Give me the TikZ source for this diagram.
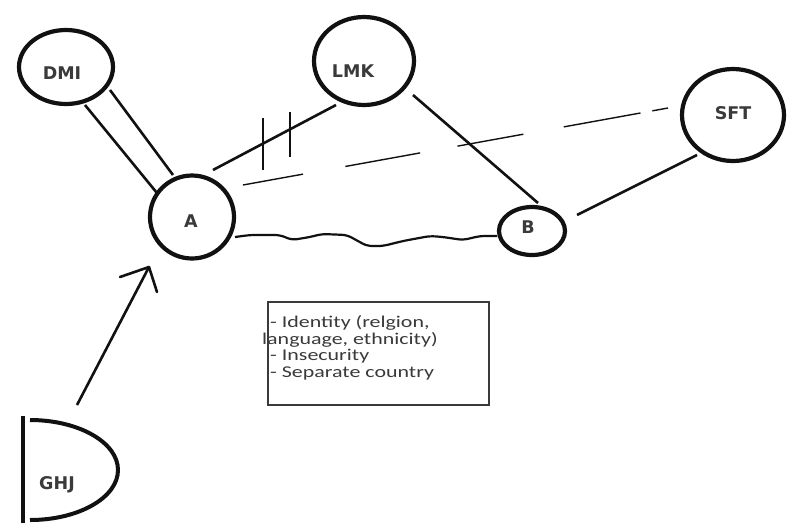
\documentclass[tikz,border=0pt]{standalone}
\usepackage{fontspec}
\setmainfont{Carlito}[FakeStretch=1.33]
\newfontfamily\lblfont{DejaVu Sans}
\usetikzlibrary{shapes.geometric}
\definecolor{ink}{HTML}{111111}
\definecolor{txt}{HTML}{3A3A3A}
\begin{document}
\begin{tikzpicture}[x=1pt,y=-1pt,
  blob/.style={ellipse, draw=ink, line width=4.2pt, inner sep=0pt},
  lbl/.style={font=\lblfont\bfseries\fontsize{17.5}{17.5}\selectfont, text=txt, inner sep=0pt},
  link/.style={draw=ink, line width=2.6pt},
  thin/.style={draw=ink, line width=1.4pt},
  note/.style={font=\fontsize{16.5}{16.8}\selectfont, text=txt, inner sep=0pt, align=left}
]
\useasboundingbox[fill=white] (0,0) rectangle (790,523);

% circles of the network
\node[blob, minimum width=94pt, minimum height=74pt] (dmi) at (66,67) {};
\node[blob, minimum width=84pt, minimum height=83pt] (a) at (192,217) {};
\node[blob, minimum width=100pt, minimum height=88pt] (lmk) at (364,61) {};
\node[blob, minimum width=66pt, minimum height=48pt] (b) at (532,231) {};
\node[blob, minimum width=102pt, minimum height=92pt] (sft) at (733,115) {};

% labels
\node[lbl] (dmit) at (62,73) {DMI};
\node[lbl] (at) at (191,221) {A};
\node[lbl] (lmkt) at (353,71) {LMK};
\node[lbl] (bt) at (528,227) {B};
\node[lbl] (sftt) at (733,113) {SFT};
\node[lbl] (ghj) at (57,485) {GHJ};

% half-round shape round GHJ
\draw[ink, line width=4.5pt] (23,416) -- (23,523);
\draw[ink, line width=4pt] (30,420) arc[start angle=-90, end angle=90, x radius=88, y radius=50];

% DMI -- A : double bond
\draw[link] ([shift={(19,38)}]dmi.center) -- ([shift={(-35,-24)}]a.center);
\draw[link] ([shift={(44,23)}]dmi.center) -- ([shift={(-19,-42)}]a.center);

% A -- LMK, broken by two strokes
\draw[link] ([shift={(21,-47)}]a.center) -- ([shift={(-28,44)}]lmk.center);
\draw[link] (263,118) -- (263,170);
\draw[link] (290,112) -- (290,157);

% LMK -- B
\draw[link] ([shift={(49,34)}]lmk.center) -- ([shift={(6,-28)}]b.center);

% B -- SFT
\draw[link] ([shift={(45,-16)}]b.center) -- ([shift={(-36,40)}]sft.center);

% A -- SFT, loose dashes
\draw[thin, dash pattern=on 61pt off 43pt on 76pt off 38pt on 67pt off 41pt on 78pt off 12pt on 16pt off 20pt]
  ([shift={(51,-32)}]a.center) -- ([shift={(-65,-7)}]sft.center);

% A -- B, wavy
\draw[ink, line width=2.2pt, rounded corners=5pt]
  ([shift={(43,20)}]a.center) -- (250,235) -- (280,235) -- (292,240) -- (310,237)
  -- (322,234) -- (347,235) -- (367,246) -- (383,246) -- (403,241) -- (430,236)
  -- (443,237) -- (463,240) -- (480,236) -- ([shift={(-35,5)}]b.center);

% GHJ -> A, hand-drawn arrow
\draw[link] ([shift={(20,-80)}]ghj.center) -- ([shift={(-43,50)}]a.center) coordinate (tip);
\draw[link, line cap=round] (tip) -- ++(-29,10);
\draw[link, line cap=round] (tip) -- ++(8,25);

% note box
\node[draw=txt, line width=1.3pt, minimum width=221pt, minimum height=103pt, inner sep=0pt] (box) at (378.5,353.5) {};
\node[note, anchor=north west] (notes) at (270,315)
  {- Identity (relgion,\\\hspace*{-8pt}language, ethnicity)\\- Insecurity\\- Separate country};
\end{tikzpicture}
\end{document}
